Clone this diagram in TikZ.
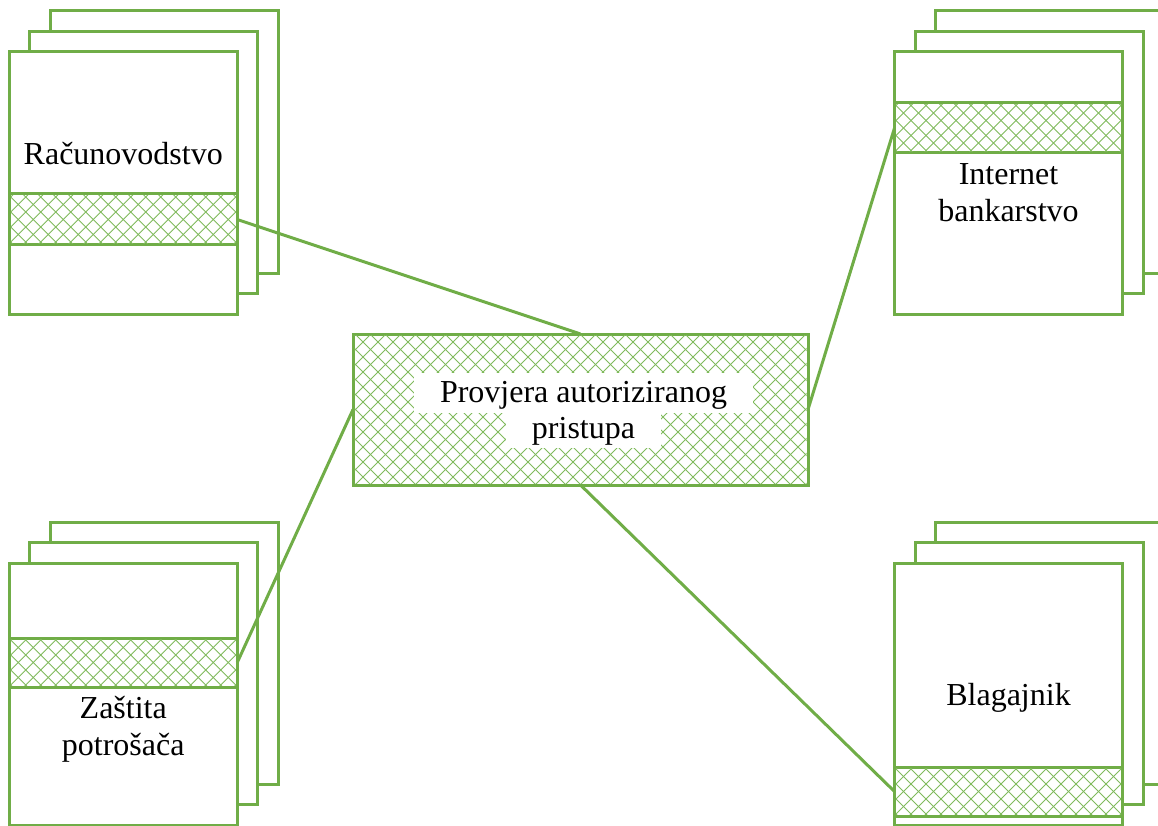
\documentclass[tikz,border=0pt]{standalone}
\usepackage{fontspec}
\setmainfont{Liberation Serif}
\definecolor{G}{RGB}{112,173,71}
\definecolor{GL}{RGB}{128,186,92}
\tikzset{
  page/.style={draw=G, fill=white, line width=3pt, minimum width=228pt, minimum height=262pt, inner sep=0pt, outer sep=0pt},
  band/.style={draw=G, fill=white, line width=3pt, minimum width=228pt, minimum height=50pt, inner sep=0pt, outer sep=0pt},
  centerbox/.style={draw=G, fill=white, line width=3pt, minimum width=455pt, minimum height=151pt, inner sep=0pt, outer sep=0pt},
  hl/.style={draw=GL, line width=0.75pt},
  lbl/.style={font=\fontsize{32}{37}\selectfont, anchor=base, inner sep=0pt, text=black},
  wlbl/.style={font=\fontsize{32}{37}\selectfont, anchor=base, fill=white, inner xsep=26pt, inner ysep=0pt, text=black},
  conn/.style={draw=G, line width=3pt}
}
\newcommand\hatchin[1]{%
  \begin{scope}
    \clip ([shift={(1.5,1.5)}]#1.north west) rectangle ([shift={(-1.5,-1.5)}]#1.south east);
    \foreach \k in {-390,-375,...,390} {
      \draw[hl] ([xshift=\k pt]#1.center) ++(-250,-250) -- ++(500,500);
      \draw[hl] ([xshift=\k pt]#1.center) ++(-250,250) -- ++(500,-500);
    }
  \end{scope}}
\begin{document}
\begin{tikzpicture}[x=1pt,y=-1pt]
\useasboundingbox (0,0) rectangle (1158,826);
\clip (0,0) rectangle (1158,826);
% group 1: Racunovodstvo
\node[page] (p1c) at (164.25,142) {};
\node[page] (p1b) at (143.75,162.5) {};
\node[page] (p1a) at (123.25,183) {};
\node[band, minimum height=51pt] (b1) at (123.25,219.5) {};
\hatchin{b1}
\node[lbl] (t1) at (123.25,165) {Računovodstvo};
% group 2: Internet bankarstvo
\node[page] (p2c) at (1049.5,142) {};
\node[page] (p2b) at (1029,162.5) {};
\node[page] (p2a) at (1008.5,183) {};
\node[band] (b2) at (1008.5,128) {};
\hatchin{b2}
\node[lbl] (t2a) at (1008.5,185) {Internet};
\node[lbl] (t2b) at (1008.5,222) {bankarstvo};
% group 3: Zastita potrosaca
\node[page] (p3c) at (164.25,653) {};
\node[page] (p3b) at (143.75,673.5) {};
\node[page] (p3a) at (123.25,694) {};
\node[band, minimum height=49pt] (b3) at (123.25,662.5) {};
\hatchin{b3}
\node[lbl] (t3a) at (123.25,718) {Zaštita};
\node[lbl] (t3b) at (123.25,755) {potrošača};
% group 4: Blagajnik
\node[page] (p4c) at (1049.5,653) {};
\node[page] (p4b) at (1029,673.5) {};
\node[page] (p4a) at (1008.5,694) {};
\node[band, minimum height=49pt] (b4) at (1008.5,791.5) {};
\hatchin{b4}
\node[lbl] (t4) at (1008.5,705) {Blagajnik};
% center
\node[centerbox] (c) at (580.5,409.5) {};
\hatchin{c}
\node[wlbl, text height=29pt, text depth=11pt] (c1) at (583.5,402) {Provjera autoriziranog};
\node[wlbl, text height=25pt, text depth=10pt] (c2) at (583.5,438) {pristupa};
% connectors
\draw[conn] (b1.east) -- (c.north);
\draw[conn] (b3.east) -- (c.west);
\draw[conn] (b2.west) -- (c.east);
\draw[conn] (c.south) -- (b4.west);
\end{tikzpicture}
\end{document}
